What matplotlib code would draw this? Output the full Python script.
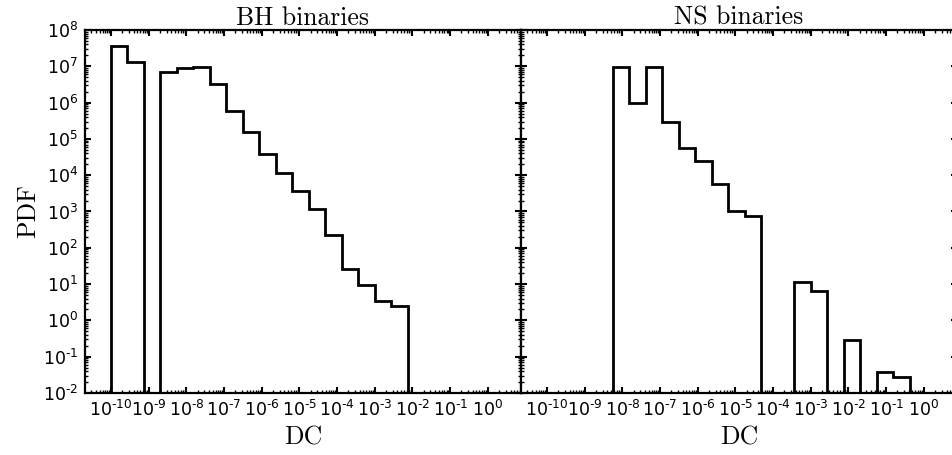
import numpy as np
import matplotlib
matplotlib.use("Agg")
import matplotlib.pyplot as plt
from matplotlib.ticker import LogLocator, NullFormatter, FuncFormatter

# log10 bin edges of DC (24 bins from 1e-10 to 10^0.5)
log_edges = np.linspace(-10, 0.5, 25)

# PDF values per bin (0 = empty bin)
bh_pdf = [3.7e7, 1.3e7, 0, 7.0e6, 8.8e6, 9.8e6, 3.3e6, 5.9e5, 1.55e5, 3.8e4,
          1.18e4, 3.7e3, 1.16e3, 2.2e2, 26, 9.6, 3.5, 2.5, 0, 0, 0, 0, 0, 0]
ns_pdf = [0, 0, 0, 0, 9.6e6, 1.0e6, 9.6e6, 3.0e5, 5.5e4, 2.5e4,
          5.8e3, 1.05e3, 7.6e2, 0, 0, 11.5, 6.6, 0, 0.28, 0, 0.038, 0.028, 0, 0]

titles = ["BH binaries", "NS binaries"]
xlabel = "DC"
ylabel = "PDF"

plt.rcParams.update({
    "xtick.direction": "in", "ytick.direction": "in",
    "xtick.top": True, "ytick.right": True,
    "xtick.major.size": 4, "ytick.major.size": 4,
    "xtick.minor.size": 2, "ytick.minor.size": 2,
    "xtick.major.width": 1.5, "ytick.major.width": 1.5,
    "xtick.minor.width": 1.0, "ytick.minor.width": 1.0,
    "xtick.labelsize": 12.5, "ytick.labelsize": 12.5,
    "xtick.major.pad": 5, "ytick.major.pad": 5,
    "axes.linewidth": 1.6,
})


def pow10(v, pos=None):
    e = int(round(np.log10(v)))
    s = str(e).replace("-", "\u2010")
    return r"$\mathdefault{10^{%s}}$" % s


W, H = 953, 455
fig = plt.figure(figsize=(W / 100, H / 100), dpi=100)
left, bottom, width, height = 85 / W, 1 - 393 / H, 436 / W, 363 / H
ax1 = fig.add_axes([left, bottom, width, height])
ax2 = fig.add_axes([left + width, bottom, width, height], sharey=ax1)

edges = 10 ** log_edges
centers = 10 ** (0.5 * (log_edges[:-1] + log_edges[1:]))

for ax, vals, title in zip((ax1, ax2), (bh_pdf, ns_pdf), titles):
    ax.hist(centers, bins=edges, weights=vals, histtype="step",
            color="black", lw=2.0, log=True)
    ax.set_xscale("log")
    ax.set_yscale("log")
    ax.set_xlim(10 ** -10.69, 10 ** 0.88)
    ax.set_ylim(1e-2, 1e8)
    ax.xaxis.set_major_locator(LogLocator(base=10, numticks=40))
    ax.xaxis.set_minor_locator(LogLocator(base=10, subs=np.arange(2, 10), numticks=40))
    ax.xaxis.set_major_formatter(FuncFormatter(pow10))
    ax.xaxis.set_minor_formatter(NullFormatter())
    ax.yaxis.set_major_locator(LogLocator(base=10, numticks=40))
    ax.yaxis.set_minor_locator(LogLocator(base=10, subs=np.arange(2, 10), numticks=40))
    ax.yaxis.set_major_formatter(FuncFormatter(pow10))
    ax.yaxis.set_minor_formatter(NullFormatter())
    ax.set_title(title, family="cmr10", fontsize=18.5, pad=3)
    ax.set_xlabel(xlabel, family="cmr10", fontsize=18.5, labelpad=4)

ax1.set_ylabel(ylabel, family="cmr10", fontsize=18.5, labelpad=2)
plt.setp(ax2.get_yticklabels(), visible=False)

fig.savefig("out.png", dpi=100, facecolor="white")
